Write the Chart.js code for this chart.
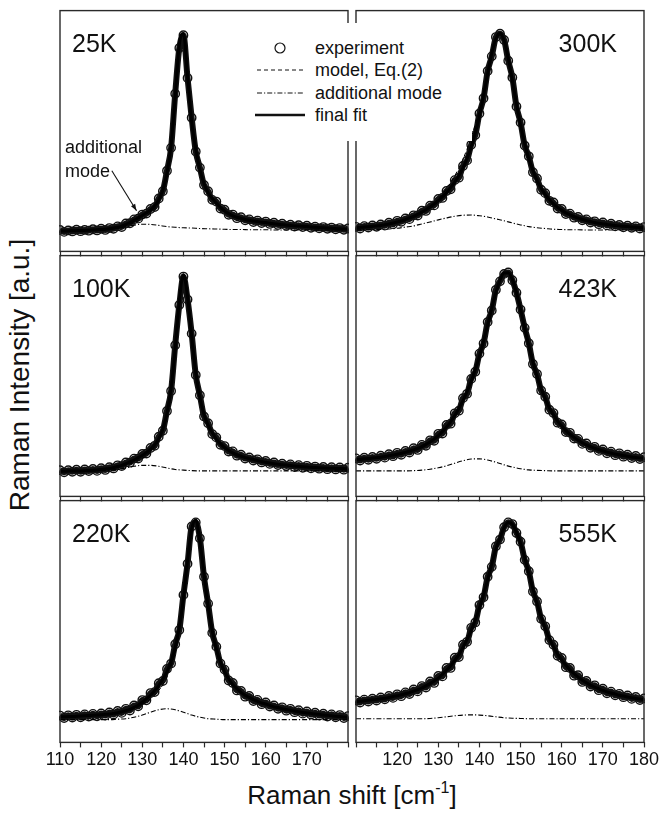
<!DOCTYPE html>
<html>
<head>
<meta charset="utf-8">
<script src="https://cdn.jsdelivr.net/npm/chart.js@4.4.1/dist/chart.umd.min.js"></script>
<style>
  body { margin: 0; background: #fff; }
  #fig { position: relative; width: 659px; height: 816px; overflow: hidden;
         font-family: "Liberation Sans", Arial, sans-serif; color: #111; background: #fff; }
  canvas.panel { position: absolute; }
  #legend { position: absolute; left: 250px; top: 23px; width: 222px; height: 118px; background: #fff; z-index: 5; }
  #legend .row { position: absolute; left: 0; height: 22px; line-height: 22px; font-size: 18px; white-space: nowrap; }
  #legend svg { position: absolute; left: 4px; top: 0; }
  #legend span { position: absolute; left: 65px; top: 0; }
  #note { position: absolute; left: 65px; top: 135px; font-size: 18px; line-height: 24px; z-index: 5; }
  #xtitle { position: absolute; left: 0; width: 704px; top: 780px; text-align: center; font-size: 26px; line-height: 30px; }
  #xtitle sup { font-size: 16px; vertical-align: 11px; line-height: 0; }
  #ytitle { position: absolute; left: 20px; top: 375px; font-size: 28px; white-space: nowrap;
            transform: translate(-50%, -50%) rotate(-90deg); }
</style>
</head>
<body>
<div id="fig">
  <div id="legend"></div>
  <div id="note">additional<br>mode</div>
  <div id="xtitle">Raman shift [cm<sup>-1</sup>]</div>
  <div id="ytitle">Raman Intensity [a.u.]</div>
</div>
<script>
// Raman shift grid (cm-1), one point per wavenumber; the additional mode on a 2 cm-1 grid
const shift = [];
for (let x = 110; x <= 180; x++) shift.push(x);
const shiftCoarse = [];
for (let x = 110; x <= 180; x += 2) shiftCoarse.push(x);

const temps = ["25K", "100K", "220K", "300K", "423K", "555K"];
const seriesNames = ["experiment", "model, Eq.(2)", "additional mode", "final fit"];
const tickLabelsLeft = [110, 120, 130, 140, 150, 160, 170];
const tickLabelsRight = [120, 130, 140, 150, 160, 170, 180];

// intensities in % of panel height
const exp25 = [8.9,8.1,8.7,8.3,9.0,8.4,8.9,8.6,9.2,8.7, 9.4,8.9,9.7,9.4,10.4,10.1,11.6,11.7,13.3,13.6,
  15.3,15.7,17.6,18.4,22.0,25.0,33.5,43.0,65.5,84.5, 89.8,72.0,55.5,41.5,34.8,27.6,25.0,21.4,20.7,17.8,
  17.3,15.2,15.3,13.8,14.2,12.9,13.3,12.2,12.8,11.8, 12.4,11.4,11.9,11.0,11.5,10.6,11.1,10.3,10.9,10.1,
  10.7,9.8,10.3,9.6,10.1,9.4,9.9,9.2,9.7,9.0, 9.5];
const model25 = [8.5,8.5,8.5,8.6,8.6,8.7,8.7,8.8,8.9,9.0, 9.1,9.2,9.3,9.6,9.8,10.2,10.7,11.3,11.9,12.7,
  13.6,14.6,15.9,17.7,20.4,24.7,31.8,43.8,63.3,85.5, 90.2,72.8,54.0,42.5,33.9,28.2,24.4,22.0,20.1,18.3,
  16.8,15.7,14.8,14.2,13.7,13.3,12.9,12.6,12.4,12.1, 12.0,11.7,11.5,11.3,11.1,10.9,10.8,10.6,10.5,10.4,
  10.3,10.1,10.0,9.9,9.8,9.7,9.6,9.5,9.4,9.3, 9.2];
const fit25 = [8.5,8.5,8.5,8.6,8.6,8.7,8.7,8.8,8.9,9.0, 9.1,9.2,9.4,9.7,10.0,10.5,11.2,12.0,12.9,13.9,
  14.9,16.0,17.2,18.9,21.4,25.5,32.4,44.3,64.0,86.0, 90.5,73.0,54.0,42.5,33.9,28.2,24.4,22.0,20.1,18.3,
  16.8,15.7,14.8,14.2,13.7,13.3,12.9,12.6,12.4,12.1, 12.0,11.7,11.5,11.3,11.1,10.9,10.8,10.6,10.5,10.4,
  10.3,10.1,10.0,9.9,9.8,9.7,9.6,9.5,9.4,9.3, 9.2];
const add25 = [8.6,8.6,8.7,8.7,8.8,8.9,9.1,9.6,10.3,10.9,11.3,11.2,10.8,10.3,10.0,9.8,9.7,9.5,9.4,9.3,9.2,
  9.1,9.1,9.0,9.0,9.0,8.9,8.9,8.9,8.9,8.9,8.9,8.9,8.9,8.9,8.9];

const exp100 = [10.9,10.0,10.9,10.2,11.1,10.2,11.2,10.5,11.4,10.6, 11.7,11.0,12.1,11.6,12.9,12.6,14.1,14.0,15.7,15.7,
  17.6,17.8,20.1,21.0,24.8,27.3,35.5,43.8,62.8,79.5, 91.3,81.8,67.6,50.4,42.0,33.2,30.4,25.9,24.5,21.4,
  20.9,18.6,18.7,16.9,17.3,15.7,16.2,14.9,15.4,14.1, 14.7,13.5,14.1,13.0,13.6,12.6,13.3,12.2,13.0,11.9,
  12.7,11.7,12.4,11.5,12.2,11.3,12.1,11.2,12.0,11.1, 11.9];
const model100 = [10.4,10.4,10.5,10.5,10.6,10.6,10.7,10.8,10.9,11.0, 11.2,11.3,11.5,11.8,12.1,12.5,13.0,13.5,14.2,15.0,
  15.8,17.0,18.3,20.3,23.1,27.2,33.8,44.5,61.0,80.8, 91.8,83.0,66.4,51.5,41.1,34.0,29.6,26.5,23.8,21.9,
  20.3,19.1,18.1,17.3,16.7,16.1,15.7,15.3,14.9,14.5, 14.2,13.9,13.6,13.4,13.1,13.0,12.8,12.6,12.5,12.3,
  12.2,12.1,12.0,11.9,11.8,11.7,11.7,11.6,11.6,11.5, 11.5];
const fit100 = [10.4,10.4,10.5,10.5,10.6,10.6,10.7,10.8,10.9,11.0, 11.2,11.4,11.6,12.0,12.4,12.9,13.6,14.3,15.1,16.1,
  17.0,18.2,19.5,21.4,24.0,28.0,34.4,44.9,61.3,81.0, 92.0,83.0,66.4,51.5,41.1,34.0,29.6,26.5,23.8,21.9,
  20.3,19.1,18.1,17.3,16.7,16.1,15.7,15.3,14.9,14.5, 14.2,13.9,13.6,13.4,13.1,13.0,12.8,12.6,12.5,12.3,
  12.2,12.1,12.0,11.9,11.8,11.7,11.7,11.6,11.6,11.5, 11.5];
const add100 = [10.6,10.6,10.6,10.6,10.6,10.7,10.9,11.2,11.8,12.5,12.9,12.9,12.5,11.8,11.2,10.9,10.7,
  10.6,10.6,10.6,10.6,10.6,10.6,10.6,10.6,10.6,10.6,10.6,10.6,10.6,10.6,10.6,10.6,10.6,10.6,10.6];

const exp220 = [11.1,10.1,11.2,10.3,11.4,10.4,11.6,10.7,11.8,10.8, 12.0,11.1,12.4,11.5,13.0,12.2,13.9,13.2,15.3,14.9,
  17.5,17.4,20.4,20.8,24.5,25.4,30.4,32.6,40.6,46.5, 61.0,73.9,89.3,91.0,84.4,68.5,57.4,45.3,39.6,32.6,
  30.1,25.6,24.6,21.5,21.3,18.9,19.2,17.1,17.6,15.8, 16.5,14.8,15.3,13.9,14.5,13.1,13.9,12.5,13.3,11.9,
  12.8,11.5,12.3,11.1,11.9,10.7,11.6,10.4,11.3,10.1, 10.9];
const model220 = [10.6,10.6,10.7,10.7,10.8,10.9,11.0,11.1,11.2,11.3, 11.4,11.6,11.7,11.9,12.2,12.6,12.9,13.4,14.0,14.7,
  15.6,16.8,18.0,19.6,21.5,23.9,27.1,31.3,37.3,45.9, 58.2,73.9,87.2,91.3,82.7,69.4,56.1,46.1,38.6,33.3,
  29.3,26.3,23.9,22.2,20.7,19.5,18.6,17.7,17.0,16.3, 15.9,15.3,14.7,14.4,13.9,13.6,13.3,13.0,12.7,12.4,
  12.2,12.0,11.7,11.6,11.3,11.2,11.0,10.8,10.7,10.5, 10.4];
const fit220 = [10.6,10.6,10.7,10.7,10.8,10.9,11.0,11.1,11.2,11.3, 11.4,11.6,11.7,12.0,12.3,12.7,13.1,13.7,14.5,15.4,
  16.6,18.0,19.5,21.4,23.5,26.1,29.3,33.5,39.3,47.7, 59.7,75.1,88.2,92.0,83.2,69.7,56.3,46.2,38.7,33.3,
  29.3,26.3,23.9,22.2,20.7,19.5,18.6,17.7,17.0,16.3, 15.9,15.3,14.7,14.4,13.9,13.6,13.3,13.0,12.7,12.4,
  12.2,12.0,11.7,11.6,11.3,11.2,11.0,10.8,10.7,10.5, 10.4];
const add220 = [9.4,9.4,9.4,9.4,9.4,9.4,9.4,9.6,9.8,10.4,11.3,12.5,13.5,13.9,13.5,12.5,11.3,10.4,9.8,9.6,9.4,
  9.4,9.4,9.4,9.4,9.4,9.4,9.4,9.4,9.4,9.4,9.4,9.4,9.4,9.4,9.4];

const exp300 = [10.2,9.5,10.5,9.9,10.8,10.2,11.2,10.7,11.9,11.3, 12.7,12.3,13.7,13.4,15.0,14.9,16.9,16.8,19.0,19.1,
  21.8,22.2,25.1,25.8,29.6,30.6,35.5,37.8,44.3,48.3, 57.3,63.6,74.9,81.0,89.0,90.4,87.8,79.2,72.2,60.2,
  53.5,44.0,39.5,32.9,30.3,25.6,24.2,21.0,20.3,17.8, 17.6,15.5,15.7,14.0,14.3,12.9,13.3,12.0,12.5,11.3,
  12.0,10.8,11.5,10.4,11.0,10.0,10.7,9.8,10.4,9.5, 10.1];
const model300 = [9.6,9.8,9.9,10.0,10.2,10.4,10.6,10.9,11.2,11.6, 12.0,12.5,13.0,13.7,14.4,15.3,16.3,17.4,18.7,20.2,
  21.9,23.8,26.0,28.5,31.4,34.6,38.3,42.5,47.3,52.7, 58.8,66.0,74.5,82.0,87.6,89.8,87.2,80.0,70.8,61.0,
  52.0,44.5,38.3,33.4,29.3,26.0,23.4,21.3,19.5,18.1, 16.9,15.8,15.0,14.2,13.6,13.1,12.6,12.2,11.8,11.5,
  11.3,11.0,10.8,10.6,10.4,10.2,10.1,9.9,9.8,9.7, 9.6];
const fit300 = [9.8,10.0,10.1,10.2,10.4,10.6,10.8,11.1,11.4,11.8, 12.2,12.7,13.2,13.9,14.5,15.4,16.3,17.3,18.4,19.7,
  21.1,22.7,24.4,26.5,28.8,31.4,34.7,38.6,43.4,49.2, 56.2,64.7,73.8,82.2,88.3,90.6,87.6,80.3,71.0,61.3,
  52.4,44.9,38.6,33.6,29.5,26.2,23.6,21.5,19.7,18.3, 17.1,16.0,15.2,14.4,13.8,13.3,12.8,12.4,12.0,11.7,
  11.5,11.2,11.0,10.8,10.6,10.4,10.3,10.1,10.0,9.9, 9.8];
const add300 = [8.9,9.0,9.0,9.1,9.3,9.6,10.1,10.6,11.4,12.2,13.1,13.9,14.6,15.0,15.1,14.8,14.3,13.5,12.7,11.8,11.0,
  10.3,9.8,9.5,9.2,9.1,9.0,9.0,8.9,8.9,8.9,8.9,8.9,8.9,8.9,8.9];

const exp423 = [15.8,14.9,16.1,15.2,16.4,15.6,16.9,16.1,17.5,16.7, 18.1,17.3,18.9,18.2,20.0,19.3,21.4,21.0,23.3,23.1,
  26.0,26.1,29.7,30.2,34.5,35.6,40.8,42.6,48.8,51.8, 59.3,63.5,72.4,77.2,85.8,89.3,92.4,93.0,89.8,84.6,
  77.6,70.0,63.6,55.0,50.8,44.0,41.4,36.0,34.6,30.6, 29.9,26.7,26.4,24.0,23.9,21.8,22.0,20.2,20.6,18.9,
  19.5,17.9,18.6,17.1,17.9,16.5,17.3,15.9,16.8,15.5, 16.3];
const model423 = [15.1,15.3,15.4,15.6,15.8,16.0,16.2,16.5,16.8,17.1, 17.5,17.9,18.3,18.8,19.4,20.0,20.8,21.7,22.8,24.0,
  25.4,27.1,29.0,31.3,33.9,36.8,40.1,43.9,48.2,53.1, 58.5,64.6,71.3,78.2,84.5,89.6,92.6,92.7,89.8,84.4,
  77.4,69.8,62.5,55.7,49.7,44.6,40.4,36.6,33.7,31.1, 29.0,27.1,25.6,24.3,23.1,22.1,21.2,20.5,19.8,19.2,
  18.7,18.2,17.8,17.4,17.1,16.8,16.5,16.2,16.0,15.8, 15.6];
const fit423 = [15.3,15.4,15.6,15.7,15.9,16.1,16.3,16.6,16.9,17.2, 17.5,17.9,18.3,18.8,19.3,19.9,20.7,21.6,22.6,23.8,
  25.2,26.9,28.8,31.0,33.6,36.5,39.8,43.5,47.8,52.7, 58.2,64.4,71.2,78.2,84.6,89.8,92.8,92.9,90.0,84.6,
  77.6,70.0,62.7,55.9,49.9,44.8,40.6,36.8,33.9,31.3, 29.2,27.3,25.8,24.5,23.3,22.3,21.4,20.7,20.0,19.4,
  18.9,18.4,18.0,17.6,17.3,17.0,16.7,16.4,16.2,16.0, 15.8];
const add423 = [10.6,10.6,10.6,10.6,10.6,10.6,10.6,10.7,10.9,11.3,11.9,12.7,13.8,14.8,15.5,15.6,15.1,14.2,13.1,
  12.2,11.5,11.0,10.8,10.7,10.6,10.6,10.6,10.6,10.6,10.6,10.6,10.6,10.6,10.6,10.6,10.6];

const exp555 = [17.4,16.5,17.7,16.9,18.1,17.3,18.6,17.8,19.2,18.4, 19.9,19.1,20.7,20.0,21.9,21.1,23.3,22.7,25.2,24.6,
  27.5,27.3,30.8,30.8,35.0,35.3,40.4,41.6,47.4,49.6, 56.8,60.0,68.5,72.6,81.1,83.9,89.0,91.0,90.3,86.6,
  83.0,75.5,70.8,62.4,58.3,51.1,48.0,42.3,40.4,35.8, 34.9,31.1,30.8,27.6,27.8,25.0,25.4,23.1,23.6,21.6,
  22.2,20.3,21.0,19.5,20.1,18.7,19.4,18.0,18.8,17.5, 18.2];
const model555 = [16.7,16.9,17.1,17.3,17.5,17.7,18.0,18.2,18.5,18.9, 19.2,19.6,20.0,20.5,21.1,21.7,22.4,23.3,24.3,25.4,
  26.7,28.2,30.0,31.9,34.1,36.6,39.5,42.8,46.5,50.8, 55.7,61.2,67.3,73.7,79.8,84.4,88.6,90.7,90.0,86.8,
  82.1,76.3,69.7,63.3,57.2,51.8,47.0,42.9,39.4,36.4, 33.9,31.7,29.8,28.2,26.8,25.5,24.5,23.5,22.7,22.0,
  21.3,20.7,20.2,19.8,19.3,19.0,18.6,18.3,18.0,17.8, 17.5];
const fit555 = [16.9,17.0,17.2,17.4,17.6,17.8,18.1,18.3,18.6,19.0, 19.3,19.7,20.1,20.6,21.2,21.8,22.5,23.4,24.3,25.4,
  26.6,28.1,29.8,31.7,33.9,36.3,39.3,42.6,46.3,50.6, 55.6,61.1,67.3,73.8,80.0,84.6,88.8,90.9,90.2,87.0,
  82.3,76.5,69.9,63.5,57.4,52.0,47.2,43.1,39.6,36.6, 34.1,31.9,30.0,28.4,27.0,25.7,24.7,23.7,22.9,22.2,
  21.5,20.9,20.4,20.0,19.5,19.2,18.8,18.5,18.2,18.0, 17.7];
const add555 = [9.8,9.8,9.8,9.8,9.8,9.8,9.8,9.8,9.8,9.9,10.2,10.6,11.0,11.3,11.4,11.3,11.0,10.6,10.2,10.0,9.9,
  9.8,9.8,9.8,9.8,9.8,9.8,9.8,9.8,9.8,9.8,9.8,9.8,9.8,9.8,9.8];

// arrow of the "additional mode" note, in data units of the 25K panel
const arrowFrom = [122.6, 33.5];
const arrowTo = [128.6, 16.9];

const panels = [
  { temp: temps[0], col: 0, row: 0, exp: exp25, model: model25, fit: fit25, add: add25, arrow: true },
  { temp: temps[1], col: 0, row: 1, exp: exp100, model: model100, fit: fit100, add: add100 },
  { temp: temps[2], col: 0, row: 2, exp: exp220, model: model220, fit: fit220, add: add220 },
  { temp: temps[3], col: 1, row: 0, exp: exp300, model: model300, fit: fit300, add: add300 },
  { temp: temps[4], col: 1, row: 1, exp: exp423, model: model423, fit: fit423, add: add423 },
  { temp: temps[5], col: 1, row: 2, exp: exp555, model: model555, fit: fit555, add: add555 },
];

// geometry of the grid of panels
const FONT = '"Liberation Sans", Arial, sans-serif';
const COL_LEFT = [60, 356];
const ROW_TOP = [7, 252, 497];
const PANEL_W = 288, PANEL_H = 245;
const PADX = 30, PADT = 2;
const TICK_LEN = 5;

const fig = document.getElementById('fig');

function pairs(xs, ys) {
  return ys.map((y, i) => ({ x: xs[i], y: y }));
}

const framePlugin = {
  id: 'frame',
  afterDraw(chart) {
    const a = chart.chartArea, ctx = chart.ctx;
    ctx.save();
    ctx.strokeStyle = '#2a2a2a';
    ctx.lineWidth = 1.4;
    ctx.strokeRect(a.left, a.top, a.right - a.left, a.bottom - a.top);
    ctx.restore();
  }
};

const tempPlugin = {
  id: 'tempLabel',
  afterDraw(chart, args, opts) {
    const a = chart.chartArea, ctx = chart.ctx;
    ctx.save();
    ctx.fillStyle = '#111';
    ctx.font = '25px ' + FONT;
    ctx.textBaseline = 'alphabetic';
    if (opts.right) {
      ctx.textAlign = 'right';
      ctx.fillText(opts.text, a.right - 27, a.top + 41);
    } else {
      ctx.textAlign = 'left';
      ctx.fillText(opts.text, a.left + 12, a.top + 41);
    }
    ctx.restore();
  }
};

const arrowPlugin = {
  id: 'noteArrow',
  afterDraw(chart, args, opts) {
    if (!opts.show) return;
    const xs = chart.scales.x, ys = chart.scales.y, ctx = chart.ctx;
    const x0 = xs.getPixelForValue(arrowFrom[0]), y0 = ys.getPixelForValue(arrowFrom[1]);
    const x1 = xs.getPixelForValue(arrowTo[0]), y1 = ys.getPixelForValue(arrowTo[1]);
    const ang = Math.atan2(y1 - y0, x1 - x0);
    ctx.save();
    ctx.strokeStyle = '#111';
    ctx.fillStyle = '#111';
    ctx.lineWidth = 1.1;
    ctx.beginPath();
    ctx.moveTo(x0, y0);
    ctx.lineTo(x1, y1);
    ctx.stroke();
    ctx.beginPath();
    ctx.moveTo(x1, y1);
    ctx.lineTo(x1 - 7 * Math.cos(ang - 0.35), y1 - 7 * Math.sin(ang - 0.35));
    ctx.lineTo(x1 - 7 * Math.cos(ang + 0.35), y1 - 7 * Math.sin(ang + 0.35));
    ctx.closePath();
    ctx.fill();
    ctx.restore();
  }
};

function makePanel(p) {
  const bottomRow = p.row === 2;
  const labels = p.col === 0 ? tickLabelsLeft : tickLabelsRight;
  const w = PANEL_W + 2 * PADX;
  const h = PADT + PANEL_H + (bottomRow ? 31 : TICK_LEN);
  const canvas = document.createElement('canvas');
  canvas.className = 'panel';
  canvas.width = w;
  canvas.height = h;
  canvas.style.left = (COL_LEFT[p.col] - PADX) + 'px';
  canvas.style.top = (ROW_TOP[p.row] - PADT) + 'px';
  canvas.style.width = w + 'px';
  canvas.style.height = h + 'px';
  fig.appendChild(canvas);

  const line = { pointRadius: 0, cubicInterpolationMode: 'monotone', borderColor: '#000', fill: false };

  new Chart(canvas, {
    type: 'line',
    data: {
      datasets: [
        Object.assign({}, line, { label: seriesNames[3], data: pairs(shift, p.fit), borderWidth: 3, order: 1 }),
        Object.assign({}, line, { label: seriesNames[1], data: pairs(shift, p.model), borderWidth: 1, borderDash: [4, 3], order: 2 }),
        Object.assign({}, line, { label: seriesNames[2], data: pairs(shiftCoarse, p.add), borderWidth: 1.1, borderDash: [5, 2, 1.2, 2], order: 3 }),
        {
          label: seriesNames[0], data: pairs(shift, p.exp), order: 4,
          showLine: true, borderColor: '#111', borderWidth: 6, cubicInterpolationMode: 'monotone',
          pointStyle: 'circle', pointRadius: 4.2, pointBorderWidth: 1.4,
          pointBorderColor: '#111', pointBackgroundColor: 'rgba(255,255,255,0)'
        }
      ]
    },
    options: {
      responsive: false,
      devicePixelRatio: 1,
      animation: false,
      clip: 1,
      layout: { padding: { left: PADX, right: PADX, top: PADT, bottom: 0 } },
      scales: {
        x: {
          type: 'linear', min: 110, max: 180,
          ticks: {
            display: bottomRow, stepSize: 5, autoSkip: false, maxRotation: 0, padding: 2,
            color: '#111', font: { family: FONT, size: 18 },
            callback: v => labels.includes(v) ? String(v) : ''
          },
          grid: { drawOnChartArea: false, drawTicks: true, tickLength: TICK_LEN, tickWidth: 1.2, tickColor: '#2a2a2a' },
          border: { display: false }
        },
        y: { display: false, min: 0, max: 100 }
      },
      plugins: {
        legend: { display: false },
        tooltip: { enabled: false },
        tempLabel: { text: p.temp, right: p.col === 1 },
        noteArrow: { show: !!p.arrow }
      }
    },
    plugins: [framePlugin, tempPlugin, arrowPlugin]
  });
}

panels.forEach(makePanel);

// legend, built from the series names
const legend = document.getElementById('legend');
const symbols = [
  '<circle cx="26" cy="11" r="5" fill="none" stroke="#111" stroke-width="1.2"/>',
  '<line x1="3" y1="11" x2="49" y2="11" stroke="#111" stroke-width="1" stroke-dasharray="4 3"/>',
  '<line x1="3" y1="11" x2="49" y2="11" stroke="#111" stroke-width="1" stroke-dasharray="5 2 1.2 2"/>',
  '<line x1="1" y1="11" x2="51" y2="11" stroke="#111" stroke-width="2.6"/>'
];
seriesNames.forEach((name, i) => {
  const row = document.createElement('div');
  row.className = 'row';
  row.style.top = (14 + i * 22.4) + 'px';
  row.style.width = '222px';
  row.innerHTML = '<svg width="52" height="22">' + symbols[i] + '</svg><span></span>';
  row.querySelector('span').textContent = name;
  legend.appendChild(row);
});
</script>
</body>
</html>
